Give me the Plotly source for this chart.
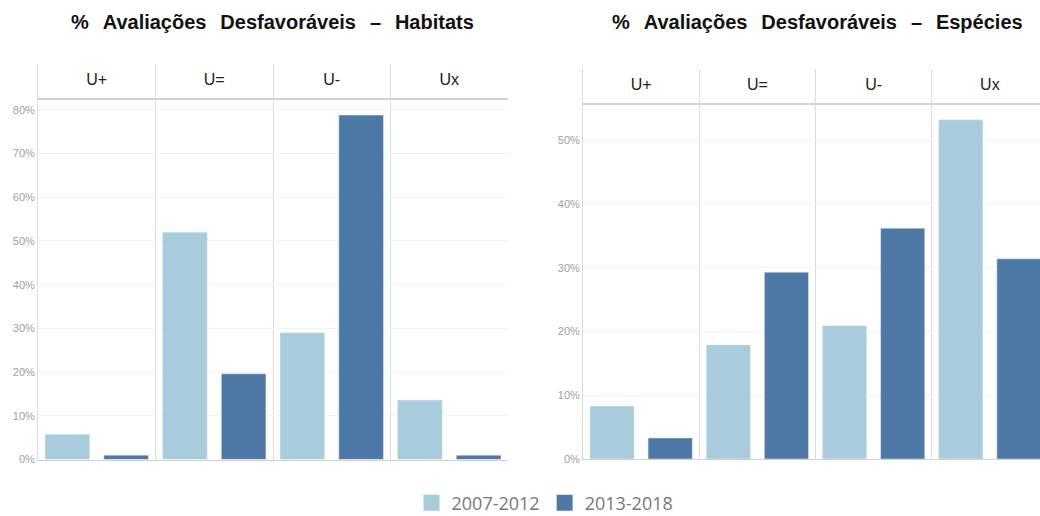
import plotly.graph_objects as go

categories = ["U+", "U=", "U-", "Ux"]
periods = ["2007-2012", "2013-2018"]
habitats_2007_2012 = [0.058, 0.52, 0.29, 0.136]
habitats_2013_2018 = [0.010, 0.196, 0.788, 0.010]
especies_2007_2012 = [0.083, 0.179, 0.209, 0.532]
especies_2013_2018 = [0.033, 0.293, 0.362, 0.314]
titles = ["% Avaliações Desfavoráveis – Habitats", "% Avaliações Desfavoráveis – Espécies"]
colors = ["#A8CCDB", "#4E79A7"]

W, H = 1040, 516

def py(p):
    return 1 - p / H

def px(p):
    return p / W

fig = go.Figure()

# header text rows
for xa, ya in [("x", "y"), ("x3", "y3")]:
    fig.add_trace(go.Scatter(x=categories, y=[0] * 4, mode="text", text=categories,
                             textfont=dict(family="Liberation Sans, Arial", size=16, color="#222"),
                             xaxis=xa, yaxis=ya, showlegend=False, hoverinfo="skip"))

# bars
for (xa, ya, data) in [("x2", "y2", [habitats_2007_2012, habitats_2013_2018]),
                       ("x4", "y4", [especies_2007_2012, especies_2013_2018])]:
    for i, p in enumerate(periods):
        fig.add_trace(go.Bar(x=categories, y=data[i], name=p, marker_color=colors[i],
                             xaxis=xa, yaxis=ya, showlegend=False))

# legend-only entries
for i, p in enumerate(periods):
    fig.add_trace(go.Scatter(x=[None], y=[None], mode="markers", name=p,
                             marker=dict(symbol="square", size=22, color=colors[i]),
                             xaxis="x2", yaxis="y2", showlegend=True))

grid = "#dcdcdc"
xcommon = dict(type="category", categoryorder="array", categoryarray=categories,
               tickson="boundaries", showgrid=True, gridcolor=grid, gridwidth=1,
               showticklabels=False, ticks="", zeroline=False, fixedrange=True)
tickfont = dict(family="Liberation Sans, Arial", size=11, color="#a0a0a0")

left_x = [px(38), px(508)]
right_x = [px(583), 1.0]
right_range = [-0.5, -0.5 + (W - 583) / 116.25]

fig.update_layout(
    width=W, height=H, margin=dict(l=0, r=0, t=0, b=0, pad=0, autoexpand=False),
    paper_bgcolor="white", plot_bgcolor="white",
    barmode="group", bargap=0, bargroupgap=0.24,
    xaxis=dict(domain=left_x, anchor="y", range=[-0.5, 3.5], showline=True,
               linecolor="#d0d0d0", linewidth=2, **xcommon),
    yaxis=dict(domain=[py(98), py(64)], anchor="x", range=[-1, 1], showgrid=False,
               showticklabels=False, zeroline=False, showline=True, linecolor=grid),
    xaxis2=dict(domain=left_x, anchor="y2", range=[-0.5, 3.5], showline=True,
                linecolor="#d0d0d0", **xcommon),
    yaxis2=dict(domain=[py(459.5), py(98)], anchor="x2", range=[0, 0.827], dtick=0.1,
                tickformat=".0%", showgrid=True, gridcolor="#f3f3f3", zeroline=False,
                showline=True, linecolor=grid, ticks="", tickfont=tickfont, automargin=False),
    xaxis3=dict(domain=right_x, anchor="y3", range=right_range, showline=True,
                linecolor="#d0d0d0", linewidth=2, **xcommon),
    yaxis3=dict(domain=[py(103), py(69)], anchor="x3", range=[-1, 1], showgrid=False,
                showticklabels=False, zeroline=False, showline=True, linecolor=grid),
    xaxis4=dict(domain=right_x, anchor="y4", range=right_range, showline=True,
                linecolor="#d0d0d0", **xcommon),
    yaxis4=dict(domain=[py(459), py(103)], anchor="x4", range=[0, 0.5584], dtick=0.1,
                tickformat=".0%", showgrid=True, gridcolor="#f3f3f3", zeroline=False,
                showline=True, linecolor=grid, ticks="", tickfont=tickfont, automargin=False),
    legend=dict(orientation="h", x=px(545), xanchor="center", y=py(503), yanchor="middle",
                font=dict(family="Open Sans, Liberation Sans", size=18, color="#777"),
                itemsizing="trace", bgcolor="rgba(0,0,0,0)", tracegroupgap=0),
    showlegend=True,
)

for t, cx in zip(titles, [272, 817]):
    fig.add_annotation(text="<b>" + t.replace(" ", " \u2004\u200a") + "</b>", xref="paper", yref="paper",
                       x=px(cx), y=py(22), xanchor="center", yanchor="middle",
                       showarrow=False,
                       font=dict(family="Liberation Sans, Arial", size=20, color="#111"))

fig.write_html("out.html", config={"displayModeBar": False},
               post_script="document.body.style.margin='0';document.body.style.overflow='hidden';")
